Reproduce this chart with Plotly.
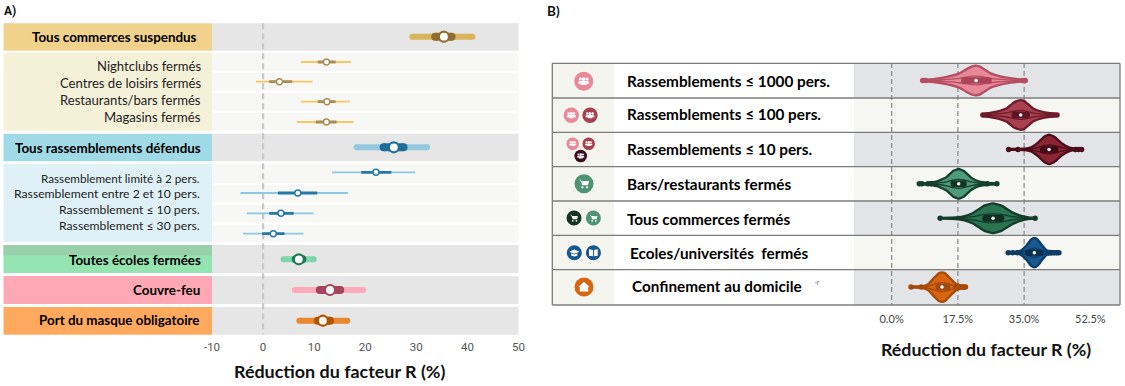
import plotly.graph_objects as go

W, H = 1125, 386
SANS = "Lato"
NARROW = "Roboto"

# ---------- Panel A data ----------
A_labels = ["Tous commerces suspendus", "Nightclubs fermés", "Centres de loisirs fermés",
            "Restaurants/bars fermés", "Magasins fermés", "Tous rassemblements défendus",
            "Rassemblement limité à 2 pers.", "Rassemblement entre 2 et 10 pers.",
            "Rassemblement ≤ 10 pers.", "Rassemblement ≤ 30 pers.",
            "Toutes écoles fermées", "Couvre-feu", "Port du masque obligatoire"]
A_low95 = [29.2, 7.4, -1.4, 7.4, 6.6, 18.3, 13.5, -4.4, -3.2, -3.9, 4.0, 6.2, 7.1]
A_high95 = [41.0, 17.2, 9.7, 17.0, 17.7, 32.1, 29.8, 16.6, 9.9, 7.9, 9.9, 19.6, 16.5]
A_low50 = [33.7, 10.7, 1.2, 10.7, 10.3, 23.6, 19.2, 2.9, 1.2, -0.2, 6.4, 11.1, 10.7]
A_high50 = [36.9, 14.2, 5.7, 14.2, 14.4, 27.5, 25.1, 10.6, 6.0, 4.2, 7.7, 15.1, 13.1]
A_mean = [35.4, 12.4, 3.2, 12.5, 12.4, 25.6, 22.1, 6.8, 3.5, 2.0, 7.0, 13.1, 11.7]
A_ticks = [-10, 0, 10, 20, 30, 40, 50]
A_ticktext = ["-10", "0", "10", "20", "30", "40", "50"]

# ---------- Panel B data ----------
B_labels = ["Rassemblements ≤ 1000 pers.", "Rassemblements ≤ 100 pers.", "Rassemblements ≤ 10 pers.",
            "Bars/restaurants fermés", "Tous commerces fermés", "Ecoles/universités  fermés",
            "Confinement au domicile"]
B_ticks = [0, 17.5, 35, 52.5]
B_ticktext = ["0.0%", "17.5%", "35.0%", "52.5%"]
B_median = [22.3, 34.1, 41.6, 17.7, 26.8, 37.7, 13.3]
B_box_low = [19.2, 32.5, 40.0, 16.4, 24.8, 36.1, 12.4]
B_box_high = [25.6, 35.7, 43.2, 19.0, 28.9, 39.3, 14.6]
v1_x = [8.2, 11, 14.5, 18, 19.8, 21.5, 22.3, 23.5, 26, 28, 30.4, 34, 35.3]
v1_d = [.06, .1, .24, .5, .77, .97, 1, .92, .5, .33, .19, .08, .05]
v2_x = [24.1, 27.8, 30.4, 32.2, 33.2, 34.1, 35, 35.7, 37.5, 40.1, 43.7]
v2_d = [.06, .23, .46, .83, .95, 1, .95, .8, .42, .19, .06]
v3_x = [30.9, 34, 36.5, 38.5, 40.3, 41.6, 43, 45, 47, 49, 50.2]
v3_d = [.03, .03, .1, .42, .85, 1, .85, .4, .12, .04, .03]
v4_x = [7.3, 9, 12, 14.5, 16.3, 17.7, 19, 21, 23, 26, 27.8]
v4_d = [.04, .05, .16, .45, .88, 1, .88, .42, .16, .05, .03]
v5_x = [12.8, 16, 19, 21.5, 24.5, 26.8, 29, 32, 34.5, 36.5, 38]
v5_d = [.03, .04, .13, .36, .85, 1, .85, .38, .14, .04, .03]
v6_x = [30.8, 32.5, 34, 35.6, 36.8, 37.7, 38.6, 39.8, 41, 43, 44.2]
v6_d = [.05, .05, .12, .48, .88, 1, .88, .48, .14, .1, .08]
v7_x = [5.1, 8, 9.7, 11, 12.4, 13.3, 14.2, 15.5, 17, 18.5, 19.5]
v7_d = [.04, .05, .22, .58, .92, 1, .92, .58, .22, .1, .07]
B_vx = [v1_x, v2_x, v3_x, v4_x, v5_x, v6_x, v7_x]
B_vd = [v1_d, v2_d, v3_d, v4_d, v5_d, v6_d, v7_d]
B_pts = [[8.2, 9.0, 34.5, 35.3], [24.1, 24.8, 25.5, 42.3, 43.0, 43.7],
         [30.9, 33.4, 36.5, 48.6, 49.4, 50.2],
         [7.3, 8.0, 9.6, 10.4, 25.3, 27.8], [12.8, 37.9],
         [30.8, 32.0, 33.2, 34.0, 41.5, 42.2, 42.9, 43.6, 44.2],
         [5.1, 7.8, 16.9, 17.6, 18.3, 19.0, 19.5]]

# ---------- Layout constants ----------
a_row_y = [36.7, 62, 81.7, 101.7, 122, 147.3, 172.3, 193, 213.3, 233.7, 259.3, 290, 320.7]
a_lab_y = [37.3, 66, 83, 100.3, 117.3, 147.7, 178, 193.3, 209.3, 225, 260, 290, 320]
a_lab_x = [197, 201, 201, 201, 201, 201, 200, 200, 200, 200, 201, 200, 200]
a_lab_size = [13.4, 13.1, 13.1, 13.1, 13.1, 13.4, 11.7, 12.2, 12.2, 12.2, 13.4, 13.4, 13.4]
a_head = {0, 5, 10, 11, 12}
a_outer = ["#D9B45C", "#F7C760", "#F7C760", "#F7C760", "#F7C760", "#93C9DC", "#8CC8DF", "#8CC8DF",
           "#8CC8DF", "#8CC8DF", "#7FD6A8", "#FFA9BC", "#E9872F"]
a_inner = ["#8F6E2F", "#A88C53", "#A88C53", "#A88C53", "#A88C53", "#1F6E98", "#2478A8", "#2478A8",
           "#2478A8", "#2478A8", "#1E7A55", "#A5445F", "#B35300"]
row_bands = [(23.3, 50.7, "#E6E6E6"), (52.7, 71, "#F7F7F5"), (72.7, 90.7, "#F7F7F5"), (92.7, 110.7, "#F7F7F5"),
             (112.7, 130.7, "#F7F7F5"), (133.7, 161.3, "#E6E6E6"), (163.7, 183.3, "#F7F7F5"),
             (185, 202.5, "#F7F7F5"), (205, 222.3, "#F7F7F5"), (225, 242.3, "#F7F7F5"),
             (245, 273, "#E6E6E6"), (276, 304, "#E6E6E6"), (307, 334.7, "#E6E6E6")]
left_bands = [(23.3, 50.7, "#F0D28C"), (52.7, 130.7, "#F5F0D8"), (133.7, 161.3, "#A0DAE6"), (163.7, 242.3, "#DFF1F7"),
              (245, 273, "#95E3B0"), (245, 255.5, "#98D0AA"), (276, 304, "#FFA8B5"), (307, 334.7, "#FFA95E")]

b_fill = ["#E8899A", "#A8404F", "#8C2433", "#4E9A7A", "#2A7452", "#17588F", "#D96410"]
b_line = ["#B54E62", "#6E1B2B", "#4B0E1C", "#16402C", "#143C2A", "#0F3D66", "#A54A08"]
b_box = ["#A94456", "#5E1524", "#3F0A16", "#123322", "#0F2D20", "#0A3050", "#9E4A10"]
b_lab_x = [627.3, 627.3, 627.3, 627.3, 627, 630, 631.8]
b_lab_y = [80.7, 114.3, 149, 183.7, 219, 252.7, 286]
b_edges = [63.3, 98, 132.3, 166.7, 201, 235.3, 269.7, 305]
b_col = ["#E3E4E7", "#F6F7F3"] * 4

fig = go.Figure()
shapes, annos = [], []


def rect(x0, x1, y0, y1, color):
    shapes.append(dict(type="rect", xref="x", yref="y", x0=x0, x1=x1, y0=y0, y1=y1,
                       fillcolor=color, line_width=0, layer="below"))


def txt(x, y, s, size, color="#111", anchor="left", bold=False, family=SANS):
    annos.append(dict(xref="x", yref="y", x=x, y=y, text=f"<b>{s}</b>" if bold else s, showarrow=False,
                      xanchor=anchor, yanchor="middle", align=anchor,
                      font=dict(size=size, color=color, family=family), borderpad=0, borderwidth=0))


# pixel subplot: dummy trace so the axes exist first in the stacking order
fig.add_trace(go.Scatter(x=[0], y=[0], xaxis="x", yaxis="y", mode="markers", marker=dict(opacity=0),
                         hoverinfo="skip", showlegend=False))

# Panel A backgrounds
for y0, y1, c in row_bands:
    rect(212, 518.5, y0, y1, c)
for y0, y1, c in left_bands:
    rect(3.5, 212, y0, y1, c)
# Panel A marks
for i, lab in enumerate(A_labels):
    y = a_row_y[i]
    head = i in a_head
    wo, wi, ms, bw = (6, 8, 10, 2.2) if head else (1.8, 2.8, 6, 1.4)
    mode = "lines+markers" if head else "lines"
    fig.add_trace(go.Scatter(x=[A_low95[i], A_high95[i]], y=[y, y], xaxis="x2", yaxis="y2", mode=mode,
                             line=dict(color=a_outer[i], width=wo), marker=dict(size=wo, color=a_outer[i]),
                             hoverinfo="skip", showlegend=False))
    fig.add_trace(go.Scatter(x=[A_low50[i], A_high50[i]], y=[y, y], xaxis="x2", yaxis="y2", mode=mode,
                             line=dict(color=a_inner[i], width=wi), marker=dict(size=wi, color=a_inner[i]),
                             hoverinfo="skip", showlegend=False))
    fig.add_trace(go.Scatter(x=[A_mean[i]], y=[y], xaxis="x2", yaxis="y2", mode="markers",
                             marker=dict(size=ms, color="white", line=dict(color=a_inner[i], width=bw)),
                             hoverinfo="skip", showlegend=False))
    txt(a_lab_x[i], a_lab_y[i], lab, a_lab_size[i], "#000" if head else "#222", "right", head)
shapes.append(dict(type="line", xref="x2", yref="y2", x0=0, x1=0, y0=23.3, y1=334.7,
                   line=dict(color="#C8C8C8", width=2.2, dash="6px,4px"), layer="below"))

# Panel B backgrounds
rect(552.3, 614, 63.3, 305, "#F5F5F0")
rect(614, 854, 63.3, 305, "#FFFFFF")
for i in range(7):
    rect(854, 1120, b_edges[i], b_edges[i + 1], b_col[i])
for e in b_edges:
    shapes.append(dict(type="line", xref="x", yref="y", x0=552.3, x1=1120, y0=e, y1=e,
                       line=dict(color="#7C7C7C", width=1.3), layer="below"))
for xx in (552.3, 1120):
    shapes.append(dict(type="line", xref="x", yref="y", x0=xx, x1=xx, y0=63.3, y1=305,
                       line=dict(color="#7C7C7C", width=1.3), layer="below"))
for v in B_ticks[:3]:
    shapes.append(dict(type="line", xref="x3", yref="y3", x0=v, x1=v, y0=-0.51, y1=6.51,
                       line=dict(color="#7E7E7E", width=1.1, dash="5px,3px"), layer="below"))

# Panel B violins
HALF = 0.43
for r, lab in enumerate(B_labels):
    xs, ds = B_vx[r], B_vd[r]
    fig.add_trace(go.Scatter(x=xs + xs[::-1], y=[r - d * HALF for d in ds] + [r + d * HALF for d in ds[::-1]],
                             xaxis="x3", yaxis="y3", mode="lines", fill="toself", fillcolor=b_fill[r],
                             line=dict(color=b_line[r], width=2.3, shape="spline", smoothing=0.3),
                             hoverinfo="skip", showlegend=False))
    # inner lens following the density
    k = 0.3
    fig.add_trace(go.Scatter(x=xs + xs[::-1], y=[r - d * HALF * k for d in ds] + [r + d * HALF * k for d in ds[::-1]],
                             xaxis="x3", yaxis="y3", mode="lines",
                             line=dict(color=b_line[r], width=1.3, shape="spline", smoothing=0.3),
                             hoverinfo="skip", showlegend=False))
    fig.add_trace(go.Scatter(x=B_pts[r], y=[r] * len(B_pts[r]), xaxis="x3", yaxis="y3", mode="markers",
                             marker=dict(size=5.5, color=b_line[r]), hoverinfo="skip", showlegend=False))
    fig.add_trace(go.Scatter(x=[B_box_low[r], B_box_high[r]], y=[r, r], xaxis="x3", yaxis="y3", mode="lines+markers",
                             line=dict(color=b_box[r], width=6.5), marker=dict(size=6.5, color=b_box[r]),
                             hoverinfo="skip", showlegend=False))
    fig.add_trace(go.Scatter(x=[B_median[r]], y=[r], xaxis="x3", yaxis="y3", mode="markers",
                             marker=dict(size=3.5, color="white"), hoverinfo="skip", showlegend=False))
    txt(b_lab_x[r], b_lab_y[r], lab, 15.3, "#000", "left", True)
txt(815, 282, "·r", 7, "#777")

# ---------- Icons ----------
def circle(cx, cy, r, c):
    shapes.append(dict(type="circle", xref="x", yref="y", x0=cx - r, x1=cx + r, y0=cy - r, y1=cy + r,
                       fillcolor=c, line_width=0, layer="above"))


def path(d, c="white"):
    shapes.append(dict(type="path", xref="x", yref="y", path=d, fillcolor=c, line_width=0, layer="above"))


def poly(cx, cy, s, pts, c="white"):
    path("M" + " L".join(f"{cx + px * s:.2f},{cy + py * s:.2f}" for px, py in pts) + " Z", c)


def people(cx, cy, r, c):
    circle(cx, cy, r, c)
    s = r / 9.5
    for dx, hr in ((-3.4, 1.5), (3.4, 1.5), (0, 1.9)):
        circle(cx + dx * s, cy - 2.2 * s, hr * s, "white")
    poly(cx, cy, s, [(-5.6, 2.4), (-5, 0), (-2, -.4), (2, -.4), (5, 0), (5.6, 2.4), (3, 2.4), (2.8, 3.6), (-2.8, 3.6), (-3, 2.4)])


def cart(cx, cy, r, c):
    circle(cx, cy, r, c)
    s = r / 9.5
    poly(cx, cy, s, [(-5, -4), (-3.2, -4), (-2.7, -2.6), (5, -2.6), (4, 1.6), (-1.8, 1.6), (-2, 0.6), (-2.4, -1), (-3.5, -3)])
    circle(cx - 1.6 * s, cy + 3.6 * s, 1.1 * s, "white")
    circle(cx + 3 * s, cy + 3.6 * s, 1.1 * s, "white")


def grad(cx, cy, r, c):
    circle(cx, cy, r, c)
    s = r / 7.5
    poly(cx, cy, s, [(-5, -1), (0, -3.2), (5, -1), (0, 1)])
    poly(cx, cy, s, [(-3, .6), (0, 1.8), (3, .6), (3, 3), (0, 3.8), (-3, 3)])


def book(cx, cy, r, c):
    circle(cx, cy, r, c)
    s = r / 7.5
    poly(cx, cy, s, [(-4.4, -3.4), (-.5, -2.8), (-.5, 3.6), (-4.4, 3)])
    poly(cx, cy, s, [(4.4, -3.4), (.5, -2.8), (.5, 3.6), (4.4, 3)])


def house(cx, cy, r, c):
    circle(cx, cy, r, c)
    s = r / 9.5
    poly(cx, cy, s, [(0, -5.2), (5.6, 0), (4.2, 0), (4.2, 4.6), (-4.2, 4.6), (-4.2, 0), (-5.6, 0)])


people(583.7, 81.3, 9.5, "#E8899A")
people(571.3, 115.3, 7.7, "#E8899A")
people(590, 115.3, 7.7, "#A8404F")
people(572.7, 143.7, 6.3, "#E8899A")
people(588.7, 143.7, 6.3, "#A8404F")
people(580.7, 156, 6.3, "#3B0F1E")
cart(584, 183.7, 9.5, "#4E9373")
cart(574, 218, 7.5, "#16331F")
cart(593.4, 218, 7.5, "#4E9373")
grad(574.3, 252.7, 7.5, "#17588F")
book(593.4, 252.7, 7.5, "#17588F")
house(584, 287, 9.5, "#D96410")

# Titles
txt(4, 10.5, "A)", 12, "#111", "left", True, NARROW)
txt(547, 10.5, "B)", 13.5, "#111", "left", True)
txt(340, 371, "Réduction du facteur R (%)", 17.9, "#111", "center", True)
txt(986, 349, "Réduction du facteur R (%)", 17.8, "#111", "center", True)

px_x = lambda a, b: [a / W, b / W]
px_y = lambda a, b: [1 - b / H, 1 - a / H]
fig.update_layout(
    template="none",
    width=W, height=H, autosize=False, margin=dict(l=0, r=0, t=0, b=0, autoexpand=False), showlegend=False,
    paper_bgcolor="white", plot_bgcolor="rgba(0,0,0,0)", shapes=shapes, annotations=annos,
    xaxis=dict(domain=[0, 1], range=[0, W], visible=False, fixedrange=True, automargin=False),
    yaxis=dict(domain=[0, 1], range=[H, 0], visible=False, fixedrange=True, automargin=False),
    xaxis2=dict(domain=px_x(212, 518.5), range=[-10, 50], tickvals=A_ticks, ticktext=A_ticktext, showgrid=False,
                zeroline=False, showline=False, automargin=False,
                ticks="outside", ticklen=1, tickcolor="rgba(0,0,0,0)", anchor="y2",
                tickfont=dict(size=11.5, color="#555", family=NARROW)),
    yaxis2=dict(domain=px_y(23.3, 334.7), range=[334.7, 23.3], visible=False, anchor="x2", automargin=False),
    xaxis3=dict(domain=px_x(854, 1120), range=[(854 - 891.7) / 3.783, (1120 - 891.7) / 3.783], tickvals=B_ticks,
                ticktext=B_ticktext, showgrid=False, zeroline=False, showline=False, ticks="outside", ticklen=4,
                automargin=False,
                tickcolor="rgba(0,0,0,0)", anchor="y3", tickfont=dict(size=11, color="#444", family=SANS)),
    yaxis3=dict(domain=px_y(63.3, 305), range=[6.52, -0.5], visible=False, anchor="x3", automargin=False),
)
fig.write_html("out.html", post_script="document.body.style.margin='0';", config=dict(displayModeBar=False))
